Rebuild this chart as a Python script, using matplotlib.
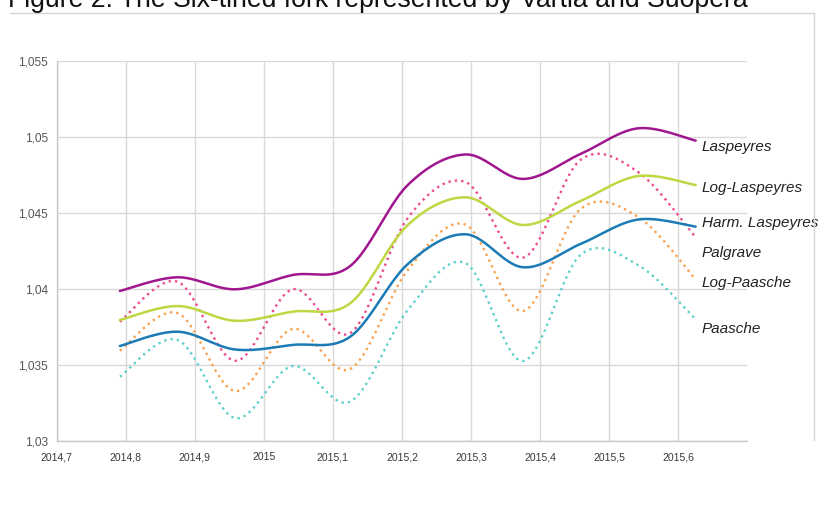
import numpy as np
import matplotlib
matplotlib.use('Agg')
import matplotlib.pyplot as plt
from matplotlib.lines import Line2D

# monthly observations, Oct 2014 .. Aug 2015 (mid-month in decimal years)
months = [2014 + (9.5 + i) / 12 for i in range(11)]

laspeyres = [1.03989, 1.04079, 1.04000, 1.04094, 1.04153, 1.04686, 1.04887, 1.04726, 1.04890, 1.05059, 1.04978]
palgrave = [1.03787, 1.04050, 1.03530, 1.04000, 1.03712, 1.04469, 1.04706, 1.04208, 1.04851, 1.04772, 1.04342]
log_laspeyres = [1.03798, 1.03890, 1.03793, 1.03853, 1.03908, 1.04423, 1.04605, 1.04423, 1.04581, 1.04745, 1.04686]
harm_laspeyres = [1.03627, 1.03721, 1.03604, 1.03634, 1.03688, 1.04166, 1.04362, 1.04145, 1.04298, 1.04459, 1.04412]
log_paasche = [1.03596, 1.03844, 1.03331, 1.03739, 1.03476, 1.04127, 1.04426, 1.03857, 1.04528, 1.04476, 1.04066]
paasche = [1.03425, 1.03667, 1.03153, 1.03495, 1.03261, 1.03864, 1.04173, 1.03528, 1.04226, 1.04160, 1.03803]

label_names = ['Laspeyres', 'Log-Laspeyres', 'Harm. Laspeyres', 'Palgrave', 'Log-Paasche', 'Paasche']
label_y = [1.04938, 1.04668, 1.04434, 1.04237, 1.04039, 1.03739]

x_ticks = [2014.7, 2014.8, 2014.9, 2015.0, 2015.1, 2015.2, 2015.3, 2015.4, 2015.5, 2015.6]
x_labels = ['2014,7', '2014,8', '2014,9', '2015', '2015,1', '2015,2', '2015,3', '2015,4', '2015,5', '2015,6']
y_ticks = [1.03, 1.035, 1.04, 1.045, 1.05, 1.055]
y_labels = ['1,03', '1,035', '1,04', '1,045', '1,05', '1,055']


def smooth_line(x, y, n=40):
    # Catmull-Rom style bezier smoothing (like a spreadsheet "smoothed line")
    p = np.column_stack([x, y]).astype(float)
    pts = np.vstack([p[0], p, p[-1]])
    t = np.linspace(0, 1, n)[:, None]
    out = []
    for i in range(1, len(pts) - 2):
        p0, p1, p2, p3 = pts[i - 1], pts[i], pts[i + 1], pts[i + 2]
        c1 = p1 + (p2 - p0) / 6
        c2 = p2 - (p3 - p1) / 6
        seg = ((1 - t) ** 3) * p1 + 3 * ((1 - t) ** 2) * t * c1 + 3 * (1 - t) * t ** 2 * c2 + t ** 3 * p2
        out.append(seg if i == 1 else seg[1:])
    out = np.vstack(out)
    return out[:, 0], out[:, 1]


fig = plt.figure(figsize=(8.2, 5.09), dpi=100)
ax = fig.add_axes([0.069, 0.133, 0.8425, 0.7466])

dotted = (0, (1, 1.7))
series = [
    (paasche, '#5fd0cc', dotted),
    (log_paasche, '#f9a24e', dotted),
    (palgrave, '#ee4a90', dotted),
    (harm_laspeyres, '#1b7bb5', '-'),
    (log_laspeyres, '#bfd742', '-'),
    (laspeyres, '#a0168f', '-'),
]
for values, color, ls in series:
    xs, ys = smooth_line(months, values)
    ax.plot(xs, ys, color=color, linestyle=ls, linewidth=1.8 if ls == '-' else 1.7,
            solid_capstyle='round', clip_on=False)

for name, yv in zip(label_names, label_y):
    ax.text(2015.634, yv, name, fontsize=11, style='italic', family='Liberation Sans',
            color='#222222', va='center', ha='left', clip_on=False)

ax.set_xlim(2014.7, 2015.7)
ax.set_ylim(1.03, 1.055)
ax.set_xticks(x_ticks)
ax.set_xticklabels(x_labels, family=['Liberation Sans Narrow', 'Liberation Sans'],
                   fontsize=7.5, color='#383838')
ax.set_yticks(y_ticks)
ax.set_yticklabels(y_labels, family='Liberation Sans', fontsize=8.6, color='#555555')
ax.tick_params(axis='x', length=0, pad=8)
ax.tick_params(axis='y', length=0, pad=6)

ax.grid(True, color='#d9d9d9', linewidth=1)
ax.set_axisbelow(True)
for s in ['top', 'right']:
    ax.spines[s].set_visible(False)
for s in ['left', 'bottom']:
    ax.spines[s].set_color('#c8c8c8')
    ax.spines[s].set_linewidth(1)

# outer frame of the chart object
fig.add_artist(Line2D([10 / 820, 814 / 820], [1 - 12.5 / 509, 1 - 12.5 / 509],
                      color='#d4d4d4', linewidth=1))
fig.add_artist(Line2D([814 / 820, 814 / 820], [1 - 12.5 / 509, 1 - 440 / 509],
                      color='#d4d4d4', linewidth=1))

fig.text(8 / 820, 1 - 7 / 509, 'Figure 2: The Six-tined fork represented by Vartia and Suopera',
         family='Liberation Sans', fontsize=19.2, color='#111111', va='baseline', ha='left')

fig.savefig('out.png', dpi=100)
